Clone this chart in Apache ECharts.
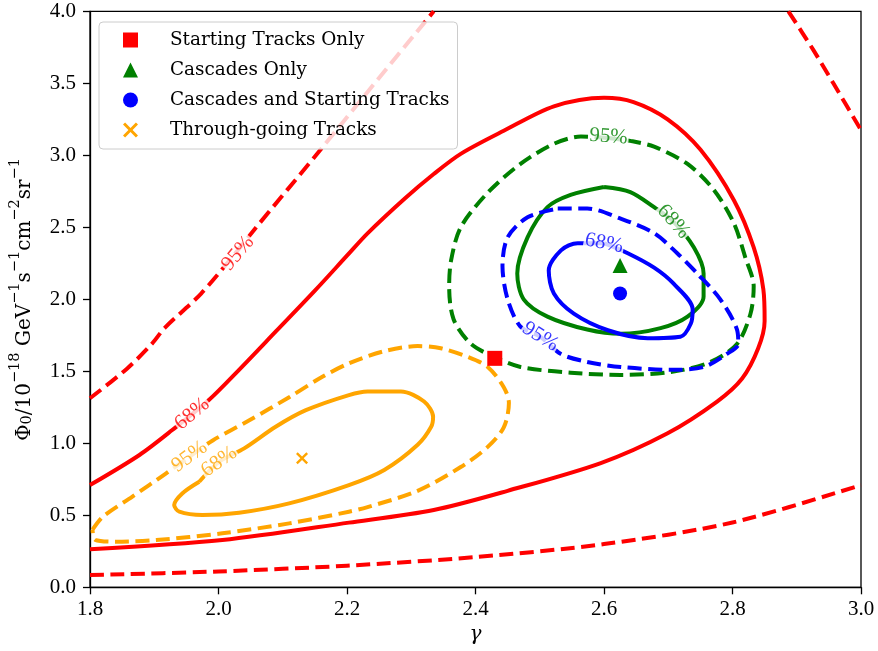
<!DOCTYPE html>
<html><head><meta charset="utf-8">
<script src="https://cdn.jsdelivr.net/npm/echarts@6/dist/echarts.min.js"></script>
<style>html,body{margin:0;padding:0;background:#fff}#c{width:878px;height:651px}</style>
</head><body><div id="c"></div>
<script>
// ---- data (gamma, Phi0) ----
const red95UpperLeft = [[1.80,1.313],[1.858,1.52],[1.897,1.694],[1.916,1.80],[1.973,2.04],[2.030,2.34],[2.055,2.48],[2.159,3.04],[2.232,3.44],[2.335,4.0]];
const red95UpperRight = [[2.887,4.0],[2.926,3.73],[2.957,3.50],[3.0,3.175]];
const red95Lower = [[1.80,0.085],[2.0,0.11],[2.2,0.15],[2.4,0.21],[2.6,0.30],[2.8,0.45],[3.0,0.71]];
const red68 = [[1.80,0.71],[1.877,0.919],[1.928,1.092],[1.985,1.30],[2.032,1.51],[2.09,1.78],[2.15,2.06],[2.201,2.308],[2.232,2.458],[2.29,2.70],[2.335,2.87],[2.377,3.01],[2.444,3.17],[2.522,3.34],[2.60,3.40],[2.646,3.37],[2.699,3.25],[2.75,3.04],[2.802,2.69],[2.833,2.36],[2.848,2.07],[2.850,1.85],[2.840,1.66],[2.815,1.45],[2.776,1.29],[2.699,1.07],[2.595,0.863],[2.45,0.67],[2.335,0.537],[2.203,0.449],[2.006,0.328],[1.80,0.264]];
const orange95 = [[1.804,0.40],[1.82,0.49],[1.866,0.63],[1.918,0.79],[1.955,0.907],[1.991,1.02],[2.048,1.16],[2.110,1.32],[2.161,1.46],[2.203,1.555],[2.258,1.64],[2.31,1.675],[2.346,1.66],[2.388,1.60],[2.419,1.53],[2.444,1.39],[2.452,1.28],[2.444,1.11],[2.419,0.975],[2.377,0.835],[2.310,0.67],[2.232,0.557],[2.203,0.525],[2.110,0.444],[2.006,0.375],[1.903,0.328],[1.840,0.317],[1.808,0.33],[1.804,0.40]];
const orange68 = [[1.970,0.733],[1.944,0.653],[1.931,0.571],[1.939,0.525],[1.975,0.502],[2.032,0.518],[2.110,0.583],[2.203,0.71],[2.258,0.815],[2.310,0.99],[2.331,1.115],[2.334,1.185],[2.320,1.29],[2.284,1.36],[2.232,1.36],[2.203,1.335],[2.136,1.23],[2.089,1.115],[2.040,0.965],[2.001,0.872],[1.970,0.733]];
const green95 = [[2.607,3.12],[2.564,3.13],[2.522,3.08],[2.470,2.94],[2.419,2.74],[2.377,2.50],[2.362,2.27],[2.359,2.09],[2.366,1.86],[2.393,1.69],[2.429,1.60],[2.470,1.53],[2.548,1.49],[2.626,1.475],[2.704,1.495],[2.766,1.565],[2.807,1.69],[2.828,1.90],[2.833,2.09],[2.820,2.29],[2.802,2.53],[2.771,2.76],[2.730,2.94],[2.678,3.06],[2.641,3.10],[2.607,3.12]];
const green68 = [[2.600,2.78],[2.548,2.725],[2.512,2.64],[2.481,2.43],[2.465,2.18],[2.475,2.0],[2.512,1.88],[2.574,1.79],[2.626,1.76],[2.688,1.80],[2.730,1.88],[2.755,2.02],[2.755,2.18],[2.740,2.36],[2.708,2.54],[2.678,2.64],[2.641,2.745],[2.600,2.78]];
const blue95 = [[2.528,2.63],[2.574,2.63],[2.626,2.56],[2.678,2.46],[2.714,2.32],[2.745,2.18],[2.781,2.0],[2.807,1.79],[2.809,1.69],[2.791,1.62],[2.755,1.53],[2.704,1.51],[2.626,1.53],[2.574,1.565],[2.533,1.62],[2.501,1.74],[2.470,1.81],[2.450,2.0],[2.442,2.23],[2.450,2.43],[2.481,2.57],[2.528,2.63]];
const blue68 = [[2.600,2.39],[2.559,2.39],[2.533,2.34],[2.514,2.20],[2.522,2.04],[2.553,1.90],[2.606,1.785],[2.668,1.73],[2.719,1.74],[2.735,1.83],[2.738,1.93],[2.708,2.11],[2.678,2.22],[2.637,2.32],[2.600,2.39]];
// best-fit points
const startingTracksBest = [[2.43,1.59]];
const cascadesBest = [[2.625,2.235]];
const combinedBest = [[2.625,2.04]];
const throughGoingBest = [[2.13,0.896]];
// contour labels: [text, gamma, Phi0]
const labelsRed = [['95%',2.030,2.32],['68%',1.959,1.205]];
const labelsOrange = [['95%',1.955,0.907],['68%',2.001,0.872]];
const labelsGreen = [['95%',2.607,3.13],['68%',2.708,2.54]];
const labelsBlue = [['68%',2.600,2.39],['95%',2.501,1.74]];
const legendNames = ['Starting Tracks Only','Cascades Only','Cascades and Starting Tracks','Through-going Tracks'];

// ---- styling ----
const RED='#ff0000', GREEN='#008000', BLUE='#0000ff', ORANGE='#ffa500';
const NUMFONT='"Liberation Serif", serif';
const TXTFONT='"DejaVu Serif", serif';
const DASH=[14,6.5];
const X_PATH='path://M0,1.4L1.4,0L5,3.6L8.6,0L10,1.4L6.4,5L10,8.6L8.6,10L5,6.4L1.4,10L0,8.6L3.6,5Z';

function contour(data, color, dashed){
  return {type:'line', data:data, symbol:'none', silent:true, z:2, clip:true, smooth:0.3,
    lineStyle:{color:color, width:4, type: dashed?DASH:'solid', cap:'butt', join:'round'}};
}
function labelSeries(items, color, rotations){
  return {type:'scatter', symbolSize:0, silent:true, z:5,
    data: items.map((d,i)=>({value:[d[1],d[2]], name:d[0],
      label:{show:true, position:'inside', formatter:d[0], rotate:rotations[i],
        color:color, fontFamily:NUMFONT, fontSize:21, backgroundColor:'#fff', padding:[-1,1]}}))};
}
function marker(name, data, symbol, size, color){
  return {type:'scatter', name:name, data:data, symbol:symbol, symbolSize:size, z:4,
    itemStyle:{color:color, opacity:1}, silent:true};
}

const chart = echarts.init(document.getElementById('c'), null, {renderer:'canvas'});
chart.setOption({
  animation:false,
  backgroundColor:'#fff',
  grid:{left:88.7, right:17, top:11.3, bottom:63.7, show:true, borderColor:'#000', borderWidth:1.3, backgroundColor:'transparent'},
  xAxis:{type:'value', min:1.8, max:3.0, interval:0.2, name:'γ', nameLocation:'middle', nameGap:31,
    nameTextStyle:{fontFamily:TXTFONT, fontSize:20, fontStyle:'italic', color:'#000'},
    axisLine:{show:true, onZero:false, lineStyle:{color:'#000', width:1.3}},
    axisTick:{show:true, length:7, lineStyle:{color:'#000', width:1.3}},
    axisLabel:{formatter:v=>v.toFixed(1), fontFamily:NUMFONT, fontSize:21, color:'#000', margin:12},
    splitLine:{show:false}},
  yAxis:{type:'value', min:0, max:4, interval:0.5,
    name:'{m|Φ}{s|0}{m|/10}{u|−18}{m| GeV}{u|−1}{m|s}{u|−1}{m|cm}{u|−2}{m|sr}{u|−1}{h| }',
    nameLocation:'middle', nameGap:55,
    nameTextStyle:{fontFamily:TXTFONT, fontSize:20, color:'#000',
      rich:{
        m:{fontFamily:TXTFONT, fontSize:20, lineHeight:20, verticalAlign:'bottom', color:'#000'},
        u:{fontFamily:TXTFONT, fontSize:14.5, lineHeight:14, verticalAlign:'top', color:'#000'},
        s:{fontFamily:TXTFONT, fontSize:14.5, lineHeight:14, verticalAlign:'bottom', color:'#000'},
        h:{fontSize:1, lineHeight:27}
      }},
    axisLine:{show:true, onZero:false, lineStyle:{color:'#000', width:1.3}},
    axisTick:{show:true, length:7, lineStyle:{color:'#000', width:1.3}},
    axisLabel:{formatter:v=>v.toFixed(1), fontFamily:NUMFONT, fontSize:21, color:'#000', margin:14},
    splitLine:{show:false}},
  legend:{orient:'vertical', left:99, top:22, padding:[8,8,9,24], itemGap:10, itemWidth:15, itemHeight:15,
    backgroundColor:'rgba(255,255,255,0.8)', borderColor:'#cccccc', borderWidth:1, borderRadius:4,
    textStyle:{fontFamily:TXTFONT, fontSize:18.4, lineHeight:20, color:'#000', padding:[0,0,0,27]},
    data:legendNames},
  series:[
    contour(red95UpperLeft, RED, true),
    contour(red95UpperRight, RED, true),
    contour(red95Lower, RED, true),
    contour(red68, RED, false),
    contour(orange95, ORANGE, true),
    contour(orange68, ORANGE, false),
    contour(green95, GREEN, true),
    contour(green68, GREEN, false),
    contour(blue95, BLUE, true),
    contour(blue68, BLUE, false),
    labelSeries(labelsRed, RED, [50,40]),
    labelSeries(labelsOrange, ORANGE, [36,35]),
    labelSeries(labelsGreen, GREEN, [-4,-48]),
    labelSeries(labelsBlue, BLUE, [-11,-32]),
    marker(legendNames[0], startingTracksBest, 'rect', 15, RED),
    marker(legendNames[1], cascadesBest, 'triangle', 15, GREEN),
    marker(legendNames[2], combinedBest, 'circle', 14, BLUE),
    marker(legendNames[3], throughGoingBest, X_PATH, 12, ORANGE)
  ]
});
</script></body></html>
